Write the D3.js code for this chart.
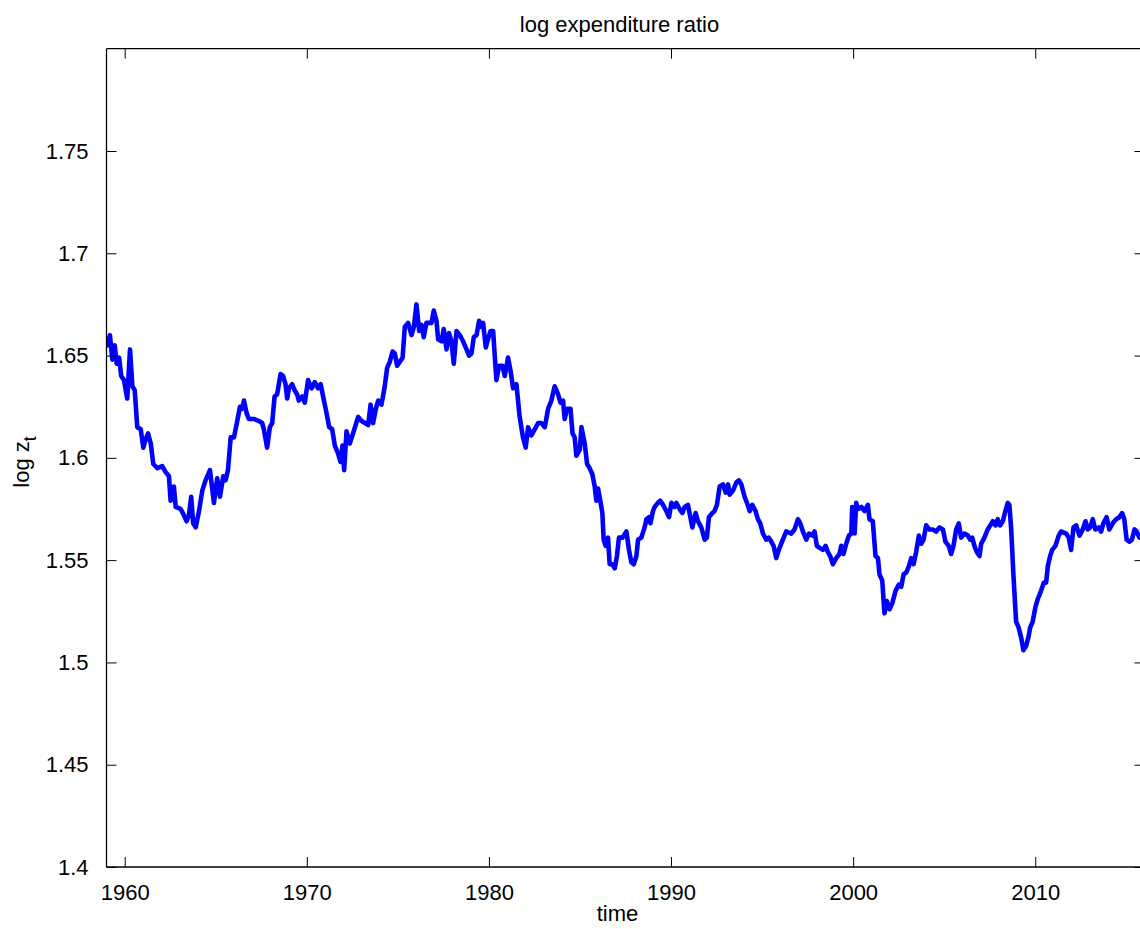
<!DOCTYPE html>
<html>
<head>
<meta charset="utf-8">
<script src="https://cdn.jsdelivr.net/npm/d3@7"></script>
<style>
  html, body { margin: 0; padding: 0; background: #fff; }
  svg { display: block; font-family: "Liberation Sans", Arial, Helvetica, sans-serif; }
</style>
</head>
<body>
<svg id="chart" width="1140" height="929"></svg>
<script>
// Observation dates (decimal years)
const years = [
  1959.04, 1959.19, 1959.32, 1959.45, 1959.56, 1959.69, 1959.81, 1959.96, 1960.14, 1960.29,
  1960.42, 1960.55, 1960.69, 1960.88, 1961.02, 1961.15, 1961.28, 1961.43, 1961.57, 1961.79,
  1962.06, 1962.25, 1962.43, 1962.52, 1962.70, 1962.80, 1963.07, 1963.25, 1963.40, 1963.53,
  1963.65, 1963.76, 1963.90, 1964.08, 1964.26, 1964.44, 1964.68, 1964.90, 1965.08, 1965.23,
  1965.41, 1965.54, 1965.67, 1965.82, 1966.00, 1966.18, 1966.33, 1966.45, 1966.55, 1966.69,
  1966.82, 1967.09, 1967.37, 1967.55, 1967.64, 1967.82, 1967.97, 1968.10, 1968.23, 1968.37,
  1968.56, 1968.70, 1968.83, 1968.92, 1969.02, 1969.20, 1969.33, 1969.47, 1969.56, 1969.75,
  1969.89, 1970.07, 1970.26, 1970.44, 1970.62, 1970.76, 1970.94, 1971.08, 1971.23, 1971.39,
  1971.54, 1971.72, 1971.85, 1971.96, 1972.05, 1972.18, 1972.36, 1972.54, 1972.82, 1973.01,
  1973.19, 1973.37, 1973.50, 1973.64, 1973.79, 1973.92, 1974.10, 1974.28, 1974.41, 1974.56,
  1974.71, 1974.83, 1974.96, 1975.11, 1975.26, 1975.38, 1975.56, 1975.75, 1975.88, 1976.02,
  1976.17, 1976.30, 1976.42, 1976.57, 1976.85, 1976.97, 1977.12, 1977.21, 1977.40, 1977.52,
  1977.67, 1977.81, 1977.94, 1978.07, 1978.22, 1978.40, 1978.58, 1978.77, 1978.91, 1979.04,
  1979.17, 1979.32, 1979.46, 1979.59, 1979.68, 1979.83, 1979.95, 1980.09, 1980.23, 1980.41,
  1980.56, 1980.74, 1980.87, 1981.05, 1981.18, 1981.33, 1981.51, 1981.69, 1981.87, 1982.02,
  1982.15, 1982.33, 1982.52, 1982.70, 1982.88, 1983.07, 1983.25, 1983.43, 1983.61, 1983.80,
  1983.93, 1984.07, 1984.16, 1984.29, 1984.48, 1984.59, 1984.71, 1984.80, 1984.99, 1985.08,
  1985.26, 1985.39, 1985.53, 1985.68, 1985.81, 1985.90, 1985.99, 1986.12, 1986.23, 1986.30,
  1986.41, 1986.54, 1986.63, 1986.78, 1986.91, 1987.03, 1987.14, 1987.33, 1987.55, 1987.69,
  1987.82, 1987.95, 1988.10, 1988.19, 1988.37, 1988.55, 1988.65, 1988.79, 1988.87, 1989.01,
  1989.10, 1989.28, 1989.41, 1989.56, 1989.74, 1989.89, 1990.02, 1990.20, 1990.29, 1990.47,
  1990.62, 1990.75, 1990.93, 1991.06, 1991.17, 1991.35, 1991.48, 1991.66, 1991.85, 1991.97,
  1992.08, 1992.27, 1992.39, 1992.52, 1992.67, 1992.85, 1993.00, 1993.13, 1993.22, 1993.40,
  1993.59, 1993.73, 1993.86, 1994.04, 1994.17, 1994.32, 1994.46, 1994.64, 1994.77, 1994.90,
  1995.05, 1995.23, 1995.37, 1995.51, 1995.63, 1995.78, 1995.92, 1996.14, 1996.33, 1996.60,
  1996.78, 1996.97, 1997.10, 1997.24, 1997.43, 1997.57, 1997.76, 1997.88, 1998.01, 1998.16,
  1998.34, 1998.49, 1998.61, 1998.74, 1998.89, 1999.07, 1999.25, 1999.35, 1999.47, 1999.62,
  1999.77, 1999.90, 1999.95, 2000.08, 2000.17, 2000.26, 2000.45, 2000.63, 2000.81, 2000.90,
  2001.08, 2001.23, 2001.36, 2001.45, 2001.60, 2001.72, 2001.85, 2002.00, 2002.15, 2002.33,
  2002.51, 2002.64, 2002.77, 2002.92, 2003.06, 2003.19, 2003.32, 2003.46, 2003.61, 2003.74,
  2003.87, 2004.01, 2004.19, 2004.37, 2004.56, 2004.74, 2004.93, 2005.07, 2005.25, 2005.38,
  2005.51, 2005.66, 2005.80, 2005.93, 2006.11, 2006.30, 2006.43, 2006.54, 2006.66, 2006.79,
  2006.94, 2007.03, 2007.21, 2007.39, 2007.53, 2007.67, 2007.82, 2007.94, 2008.07, 2008.22,
  2008.36, 2008.49, 2008.58, 2008.68, 2008.80, 2008.95, 2009.09, 2009.23, 2009.35, 2009.50,
  2009.64, 2009.72, 2009.86, 2010.01, 2010.14, 2010.32, 2010.47, 2010.60, 2010.69, 2010.82,
  2010.93, 2011.11, 2011.29, 2011.42, 2011.70, 2011.84, 2011.97, 2012.10, 2012.25, 2012.43,
  2012.61, 2012.76, 2012.88, 2013.01, 2013.16, 2013.30, 2013.49, 2013.62, 2013.74, 2013.92,
  2014.07, 2014.25, 2014.44, 2014.62, 2014.77, 2014.89, 2015.02, 2015.17, 2015.31, 2015.45,
  2015.57, 2015.72, 2015.85
];

// log expenditure ratio, log z_t
const logZ = [
  1.655, 1.660, 1.648, 1.655, 1.646, 1.649, 1.640, 1.638, 1.629, 1.653,
  1.635, 1.633, 1.615, 1.614, 1.605, 1.609, 1.612, 1.607, 1.597, 1.595,
  1.596, 1.593, 1.591, 1.579, 1.586, 1.576, 1.575, 1.572, 1.569, 1.572,
  1.581, 1.568, 1.566, 1.574, 1.584, 1.589, 1.594, 1.578, 1.590, 1.581,
  1.591, 1.589, 1.594, 1.610, 1.610, 1.618, 1.625, 1.624, 1.628, 1.622,
  1.619, 1.619, 1.618, 1.617, 1.614, 1.605, 1.615, 1.617, 1.630, 1.631,
  1.641, 1.640, 1.636, 1.629, 1.634, 1.636, 1.633, 1.631, 1.628, 1.630,
  1.627, 1.638, 1.634, 1.637, 1.634, 1.636, 1.628, 1.622, 1.615, 1.614,
  1.606, 1.602, 1.598, 1.606, 1.594, 1.613, 1.607, 1.612, 1.620, 1.618,
  1.617, 1.616, 1.626, 1.617, 1.624, 1.628, 1.626, 1.635, 1.644, 1.647,
  1.652, 1.651, 1.645, 1.647, 1.649, 1.664, 1.666, 1.660, 1.664, 1.675,
  1.662, 1.665, 1.659, 1.666, 1.666, 1.672, 1.667, 1.658, 1.657, 1.663,
  1.653, 1.661, 1.657, 1.646, 1.662, 1.660, 1.657, 1.653, 1.650, 1.651,
  1.659, 1.660, 1.667, 1.664, 1.666, 1.654, 1.658, 1.662, 1.662, 1.638,
  1.645, 1.645, 1.640, 1.649, 1.643, 1.634, 1.636, 1.620, 1.610, 1.605,
  1.615, 1.611, 1.614, 1.617, 1.617, 1.615, 1.624, 1.628, 1.635, 1.631,
  1.627, 1.628, 1.619, 1.624, 1.624, 1.612, 1.610, 1.601, 1.604, 1.615,
  1.607, 1.597, 1.595, 1.592, 1.586, 1.579, 1.585, 1.579, 1.573, 1.560,
  1.557, 1.561, 1.548, 1.548, 1.546, 1.552, 1.561, 1.561, 1.564, 1.555,
  1.549, 1.548, 1.552, 1.560, 1.561, 1.566, 1.570, 1.571, 1.568, 1.574,
  1.576, 1.578, 1.579, 1.577, 1.574, 1.571, 1.578, 1.576, 1.578, 1.575,
  1.573, 1.576, 1.577, 1.571, 1.566, 1.573, 1.569, 1.566, 1.560, 1.561,
  1.571, 1.573, 1.574, 1.577, 1.586, 1.587, 1.583, 1.587, 1.582, 1.584,
  1.588, 1.589, 1.587, 1.581, 1.578, 1.574, 1.577, 1.574, 1.570, 1.568,
  1.563, 1.560, 1.561, 1.559, 1.557, 1.551, 1.555, 1.560, 1.564, 1.563,
  1.565, 1.570, 1.568, 1.564, 1.560, 1.563, 1.562, 1.564, 1.557, 1.556,
  1.555, 1.557, 1.554, 1.552, 1.548, 1.551, 1.553, 1.557, 1.553, 1.558,
  1.562, 1.563, 1.576, 1.563, 1.578, 1.575, 1.576, 1.574, 1.577, 1.570,
  1.569, 1.552, 1.551, 1.543, 1.540, 1.524, 1.530, 1.526, 1.529, 1.535,
  1.538, 1.537, 1.543, 1.544, 1.547, 1.551, 1.548, 1.554, 1.562, 1.558,
  1.560, 1.567, 1.565, 1.565, 1.564, 1.566, 1.565, 1.559, 1.557, 1.553,
  1.557, 1.565, 1.568, 1.561, 1.563, 1.562, 1.560, 1.561, 1.557, 1.554,
  1.552, 1.558, 1.561, 1.565, 1.567, 1.569, 1.567, 1.570, 1.567, 1.569,
  1.574, 1.578, 1.577, 1.565, 1.543, 1.520, 1.517, 1.512, 1.506, 1.508,
  1.513, 1.517, 1.520, 1.527, 1.531, 1.535, 1.539, 1.539, 1.547, 1.552,
  1.555, 1.557, 1.562, 1.564, 1.563, 1.561, 1.555, 1.566, 1.567, 1.562,
  1.565, 1.569, 1.565, 1.566, 1.570, 1.565, 1.566, 1.564, 1.568, 1.571,
  1.565, 1.568, 1.570, 1.571, 1.573, 1.570, 1.560, 1.559, 1.560, 1.565,
  1.564, 1.561, 1.561
];

const xTickValues = [1960, 1970, 1980, 1990, 2000, 2010];
const yTickValues = [1.4, 1.45, 1.5, 1.55, 1.6, 1.65, 1.7, 1.75];

const titleText = "log expenditure ratio";
const xLabelText = "time";

// Plot box
const box = { left: 106.5, right: 1144.5, top: 48.7, bottom: 867 };
const tickLen = 10;
const fontSize = 22;

const svg = d3.select("#chart");

const x = d3.scaleLinear().domain([1959, 2016]).range([box.left, box.right]);
const y = d3.scaleLinear().domain([1.4, 1.8]).range([box.bottom, box.top]);

const data = years.map((t, i) => ({ t, v: logZ[i] }));

// Clip the series to the axes box
svg.append("defs").append("clipPath").attr("id", "plotClip")
  .append("rect")
  .attr("x", box.left).attr("y", box.top)
  .attr("width", box.right - box.left).attr("height", box.bottom - box.top);

// Series line
const line = d3.line().x(d => x(d.t)).y(d => y(d.v));
svg.append("path")
  .datum(data)
  .attr("clip-path", "url(#plotClip)")
  .attr("fill", "none")
  .attr("stroke", "#0000ff")
  .attr("stroke-width", 4.6)
  .attr("stroke-linejoin", "round")
  .attr("stroke-linecap", "round")
  .attr("d", line);

// Axes with inward ticks on all four sides
const fmtY = d => String(+d.toFixed(2));

const axBottom = svg.append("g").attr("transform", `translate(0,${box.bottom})`)
  .call(d3.axisBottom(x).tickValues(xTickValues).tickSize(-tickLen).tickPadding(tickLen + 7).tickFormat(d3.format("d")));
const axTop = svg.append("g").attr("transform", `translate(0,${box.top})`)
  .call(d3.axisTop(x).tickValues(xTickValues).tickSize(-tickLen).tickFormat(""));
const axLeft = svg.append("g").attr("transform", `translate(${box.left},0)`)
  .call(d3.axisLeft(y).tickValues(yTickValues).tickSize(-tickLen).tickPadding(tickLen + 8).tickFormat(fmtY));
const axRight = svg.append("g").attr("transform", `translate(${box.right},0)`)
  .call(d3.axisRight(y).tickValues(yTickValues).tickSize(-tickLen).tickFormat(""));

[axBottom, axTop, axLeft, axRight].forEach(g => {
  g.select(".domain").attr("stroke", "#000").attr("stroke-width", 1.3);
  g.selectAll(".tick line").attr("stroke", "#000").attr("stroke-width", 1);
  g.selectAll("text")
    .attr("fill", "#000")
    .style("font-size", fontSize + "px")
    .style("font-family", "'Liberation Sans', Arial, Helvetica, sans-serif");
});
axBottom.select(".domain").attr("d", `M${box.left},0H${box.right}`);
axTop.select(".domain").attr("d", `M${box.left},0H${box.right}`);
axLeft.select(".domain").attr("d", `M0,${box.top}V${box.bottom}`);
axRight.select(".domain").attr("d", `M0,${box.top}V${box.bottom}`);

// Title
svg.append("text")
  .attr("x", (box.left + box.right) / 2 - 6)
  .attr("y", 32)
  .attr("text-anchor", "middle")
  .style("font-size", fontSize + "px")
  .attr("fill", "#000")
  .text(titleText);

// X label
svg.append("text")
  .attr("x", (box.left + box.right) / 2 - 8)
  .attr("y", 921)
  .attr("text-anchor", "middle")
  .style("font-size", fontSize + "px")
  .attr("fill", "#000")
  .text(xLabelText);

// Y label: log z with subscript t
const yLab = svg.append("text")
  .attr("transform", `translate(29,462) rotate(-90)`)
  .attr("text-anchor", "middle")
  .style("font-size", fontSize + "px")
  .attr("fill", "#000");
yLab.append("tspan").text("log z");
yLab.append("tspan").attr("dy", 7).style("font-size", (fontSize * 0.8) + "px").text("t");
</script>
</body>
</html>
